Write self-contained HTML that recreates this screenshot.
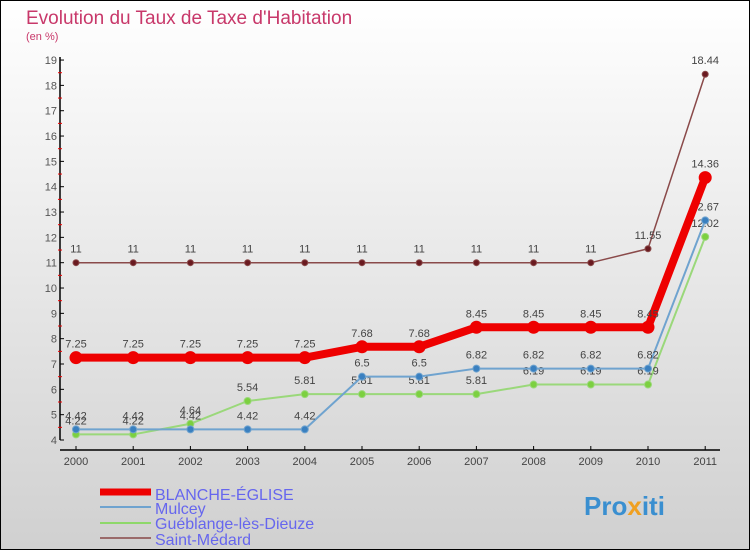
<!DOCTYPE html>
<html><head><meta charset="utf-8"><style>
body{margin:0}
#c{width:750px;height:550px;position:relative;font-family:"Liberation Sans",sans-serif}
</style></head><body>
<div id="c">
<svg id="s" width="750" height="550" xmlns="http://www.w3.org/2000/svg">
<defs><linearGradient id="bg" x1="0" y1="0" x2="0" y2="1"><stop offset="0" stop-color="#ffffff"/><stop offset="1" stop-color="#d0d0d0"/></linearGradient></defs>
<rect x="0.5" y="0.5" width="749" height="549" fill="url(#bg)" stroke="#000"/>
<text x="26" y="24" font-size="19" fill="#c8386a">Evolution du Taux de Taxe d'Habitation</text>
<text x="26" y="40" font-size="11" fill="#c8386a">(en %)</text>
<g id="axes"></g><g id="series"></g>
<g>
<line x1="100" y1="492" x2="151" y2="492" stroke="#e00" stroke-width="7"/><text x="155" y="500" font-size="16" fill="#6666ee">BLANCHE-ÉGLISE</text>
<line x1="100" y1="507" x2="151" y2="507" stroke="#6fa3cf" stroke-width="2"/><text x="155" y="514" font-size="16" fill="#6666ee">Mulcey</text>
<line x1="100" y1="523" x2="151" y2="523" stroke="#8ed86a" stroke-width="2"/><text x="155" y="529" font-size="16" fill="#6666ee">Guéblange-lès-Dieuze</text>
<line x1="100" y1="538" x2="151" y2="538" stroke="#9a6a6a" stroke-width="2"/><text x="155" y="545" font-size="16" fill="#6666ee">Saint-Médard</text>
</g>
<text x="584" y="515" font-size="26" font-weight="bold" fill="#3a8fd0">Pro<tspan fill="#f0a020">x</tspan>iti</text>
</svg>
</div>
<script>
const years=[2000,2001,2002,2003,2004,2005,2006,2007,2008,2009,2010,2011];
const blanche=[7.25,7.25,7.25,7.25,7.25,7.68,7.68,8.45,8.45,8.45,8.45,14.36];
const mulcey=[4.42,4.42,4.42,4.42,4.42,6.5,6.5,6.82,6.82,6.82,6.82,12.67];
const gueblange=[4.22,4.22,4.64,5.54,5.81,5.81,5.81,5.81,6.19,6.19,6.19,12.02];
const medard=[11,11,11,11,11,11,11,11,11,11,11.55,18.44];
const yTicks=[4,5,6,7,8,9,10,11,12,13,14,15,16,17,18,19];
const NS="http://www.w3.org/2000/svg";
const x=i=>76+i*57.2;
const y=v=>440-(v-4)*25.33;
function mk(t,a,p){const e=document.createElementNS(NS,t);for(const k in a)e.setAttribute(k,a[k]);p.appendChild(e);return e;}
const ax=document.getElementById('axes');
const yl=mk('line',{x1:60,y1:y(4),x2:60,y2:y(19)-3,stroke:'#000','stroke-width':1.5},ax);


const xl=mk('line',{x1:60,y1:450,x2:720,y2:450,stroke:'#000','stroke-width':1.5},ax);


yTicks.forEach(v=>{
 mk('line',{x1:60,y1:y(v),x2:64,y2:y(v),stroke:'#000'},ax);
 if(v<19)mk('line',{x1:58,y1:y(v+0.5),x2:62,y2:y(v+0.5),stroke:'#e00'},ax);
 const t=mk('text',{x:57,y:y(v)+4,'text-anchor':'end','font-size':11,fill:'#555'},ax);t.textContent=v;
 
 
});
years.forEach((yr,i)=>{
 mk('line',{x1:x(i),y1:450,x2:x(i),y2:446,stroke:'#000'},ax);
 const t=mk('text',{x:x(i),y:465,'text-anchor':'middle','font-size':11,fill:'#444'},ax);t.textContent=yr;
 
 
});
const sg=document.getElementById('series');
function draw(data,name,color,dot,w,r){
 const g=mk('g',{},sg);
 
 
 mk('polyline',{points:data.map((v,i)=>x(i)+','+y(v)).join(' '),fill:'none',stroke:color,'stroke-width':w,'stroke-linejoin':'round'},g);
 data.forEach((v,i)=>{
  const c=mk('circle',{cx:x(i),cy:y(v),r:r,fill:dot,stroke:color,'stroke-width':1},g);
  
  
  const t=mk('text',{x:x(i),y:y(v)-10,'text-anchor':'middle','font-size':11,fill:'#444'},g);t.textContent=v;
 });
}
draw(medard,'series-saint-medard','#8a4a4a','#6a1a20',1.5,3);
draw(gueblange,'series-gueblange','#9ad87a','#7cd040',2,3.5);
draw(mulcey,'series-mulcey','#6fa3cf','#3a80c0',2,3.5);
draw(blanche,'series-blanche-eglise','#ee0000','#ee0000',8,6);
</script>
</body></html>
